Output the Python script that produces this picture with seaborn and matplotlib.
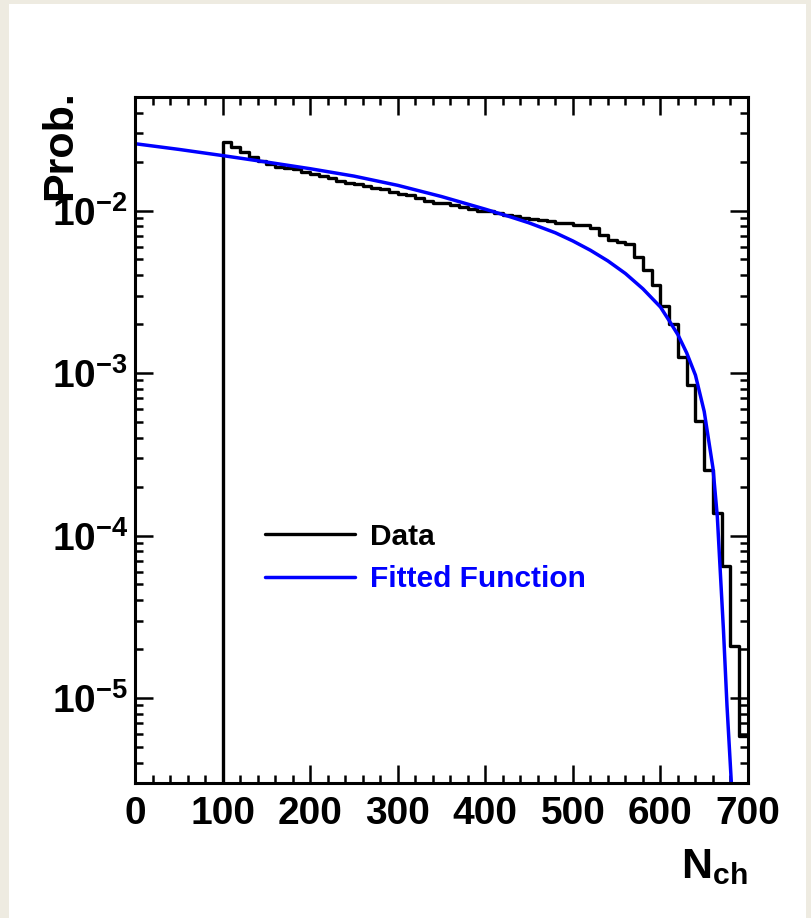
import numpy as np
import pandas as pd
import matplotlib
matplotlib.use('Agg')
import matplotlib.pyplot as plt
import seaborn as sns
from matplotlib.ticker import MultipleLocator, LogLocator, FuncFormatter, NullFormatter
from matplotlib.patches import Rectangle

# histogram: lower bin edges (width 10) and bin contents
bin_low = list(range(90, 700, 10))
data_prob = [0,
             0.0265, 0.0247, 0.0228, 0.0214, 0.0203, 0.0194, 0.0186, 0.0183, 0.0179, 0.0172,
             0.0168, 0.0164, 0.0159, 0.0153, 0.0148, 0.0146, 0.0142, 0.0138, 0.0135, 0.0130,
             0.0127, 0.0124, 0.0120, 0.0115, 0.0112, 0.0112, 0.0108, 0.0105, 0.0102, 0.0100,
             0.0099, 0.0096, 0.0094, 0.0092, 0.0090, 0.0089, 0.0088, 0.0086, 0.0084, 0.0084,
             0.0082, 0.0081, 0.0078, 0.0071, 0.0066, 0.0064, 0.0062, 0.0052, 0.0043, 0.0035,
             0.0026, 0.0020, 0.00126, 0.00085, 0.00051, 0.000254, 0.000137, 0.0000645,
             0.0000210, 0.0000058]
bin_width = 10

fit_n = [0, 50, 100, 150, 200, 250, 300, 350, 400, 430, 450, 480, 500, 520, 540,
         560, 580, 600, 610, 620, 630, 640, 650, 660, 665, 668, 672, 676, 681]
fit_prob = [0.0258, 0.0238, 0.0218, 0.0199, 0.0181, 0.0163, 0.0143, 0.0122, 0.0102,
            0.0091, 0.0084, 0.0073, 0.0065, 0.0057, 0.0049, 0.0041, 0.0033, 0.00255,
            0.0021, 0.00172, 0.00133, 0.00097, 0.00058, 0.00026, 0.00013, 0.000065,
            0.000026, 0.000009, 0.000003]

sns.set_style('ticks')
plt.rcParams['font.family'] = ['Liberation Sans', 'DejaVu Sans']
plt.rcParams['font.weight'] = 'bold'
plt.rcParams['mathtext.fontset'] = 'custom'
plt.rcParams['mathtext.rm'] = 'Liberation Sans:bold'
plt.rcParams['mathtext.bf'] = 'Liberation Sans:bold'
plt.rcParams['mathtext.it'] = 'Liberation Sans:bold:italic'
plt.rcParams['axes.labelcolor'] = 'black'
plt.rcParams['text.color'] = 'black'

# step histogram table: add closing edge at the last bin
hist_df = pd.DataFrame({
    'N': bin_low + [bin_low[-1] + bin_width],
    'prob': data_prob + [data_prob[-1]],
})
fit_df = pd.DataFrame({'N': fit_n, 'prob': fit_prob})

fig = plt.figure(figsize=(8.11, 9.18), dpi=100)
fig.patch.set_facecolor('#eeebe1')
fig.patches.append(Rectangle((9 / 811, 0), 797 / 811, 914 / 918, transform=fig.transFigure,
                             facecolor='white', edgecolor='none', zorder=-10))

ax = fig.add_axes([135 / 811, 1 - 783 / 918, 613 / 811, 686 / 918])
ax.set_zorder(5)
ax.set_facecolor('white')

sns.lineplot(data=hist_df, x='N', y='prob', ax=ax, color='black', linewidth=2.4,
             drawstyle='steps-post', estimator=None, sort=False, label='Data')
sns.lineplot(data=fit_df, x='N', y='prob', ax=ax, color='#0000ff', linewidth=2.5,
             estimator=None, sort=False, label='Fitted Function')

ax.set_yscale('log')
ax.set_xlim(0, 700)
ax.set_ylim(3e-6, 5e-2)

ax.xaxis.set_major_locator(MultipleLocator(100))
ax.xaxis.set_minor_locator(MultipleLocator(20))
ax.yaxis.set_major_locator(LogLocator(base=10))
ax.yaxis.set_minor_locator(LogLocator(base=10, subs=np.arange(2, 10)))
ax.yaxis.set_major_formatter(FuncFormatter(lambda v, p: r'$\mathbf{10^{%d}}$' % round(np.log10(v))))
ax.yaxis.set_minor_formatter(NullFormatter())

ax.tick_params(which='both', direction='in', top=True, right=True, width=1.8,
               labelsize=28, colors='black')
ax.tick_params(which='major', length=13)
ax.tick_params(which='minor', length=6)
ax.tick_params(axis='x', pad=9)
ax.tick_params(axis='y', pad=5)
for lab in ax.get_xticklabels() + ax.get_yticklabels():
    lab.set_fontweight('bold')
for sp in ax.spines.values():
    sp.set_linewidth(2.2)
    sp.set_color('black')

ax.set_xlabel(r'$\mathbf{N_{ch}}$', fontsize=31, loc='right', color='black')
ax.xaxis.set_label_coords(1.0, -0.093)
ax.set_ylabel('Prob.', fontsize=31, fontweight='bold', loc='top', color='black')
ax.yaxis.set_label_coords(-0.09, 1.01)

leg = ax.legend(loc='center left', bbox_to_anchor=((265 - 135) / 613, (783 - 558) / 686),
                frameon=False, fontsize=21.5, handlelength=3.0, handletextpad=0.5,
                labelspacing=0.5, borderpad=0, borderaxespad=0, labelcolor='linecolor')
for t in leg.get_texts():
    t.set_fontweight('bold')

plt.savefig('out.png', dpi=100, facecolor=fig.get_facecolor())
